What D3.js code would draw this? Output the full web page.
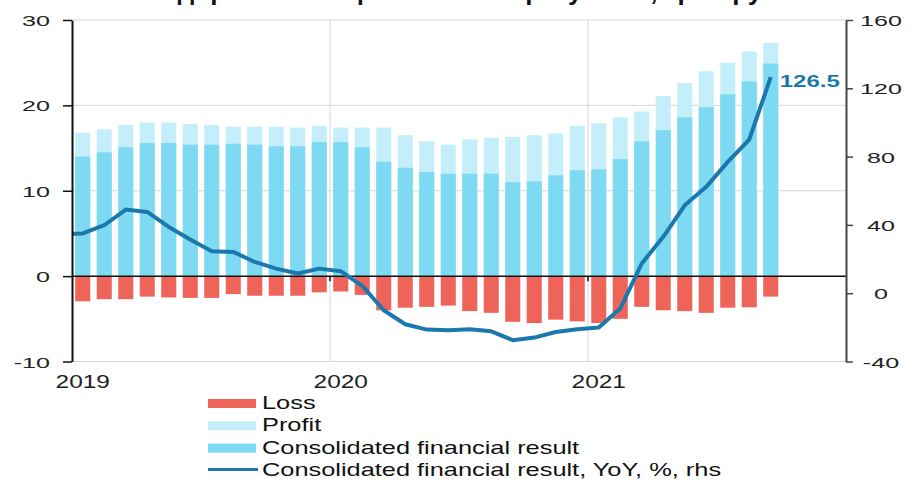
<!DOCTYPE html>
<html><head><meta charset="utf-8">
<script src="https://cdn.jsdelivr.net/npm/d3@7"></script>
<style>body{margin:0;background:#fff}svg{display:block}text{font-family:"Liberation Sans",Arial,sans-serif}</style>
</head><body>
<svg id="c" width="912" height="481"></svg>
<script>
const months = ["2019-01","2019-02","2019-03","2019-04","2019-05","2019-06","2019-07","2019-08","2019-09","2019-10","2019-11","2019-12",
"2020-01","2020-02","2020-03","2020-04","2020-05","2020-06","2020-07","2020-08","2020-09","2020-10","2020-11","2020-12",
"2021-01","2021-02","2021-03","2021-04","2021-05","2021-06","2021-07","2021-08","2021-09"];
const axisMonths = ["2019-01","2019-02","2019-03","2019-04","2019-05","2019-06","2019-07","2019-08","2019-09","2019-10","2019-11","2019-12",
"2020-01","2020-02","2020-03","2020-04","2020-05","2020-06","2020-07","2020-08","2020-09","2020-10","2020-11","2020-12",
"2021-01","2021-02","2021-03","2021-04","2021-05","2021-06","2021-07","2021-08","2021-09","2021-10","2021-11","2021-12"];
const consolidated = [14.0,14.5,15.1,15.6,15.6,15.4,15.4,15.5,15.4,15.2,15.2,15.7,
  15.7,15.1,13.4,12.7,12.2,12.0,12.0,12.0,11.0,11.1,11.8,12.4,
  12.5,13.7,15.8,17.1,18.6,19.8,21.3,22.8,24.9];
const profit = [16.8,17.2,17.7,18.0,18.0,17.8,17.7,17.5,17.5,17.5,17.4,17.6,
  17.4,17.4,17.4,16.5,15.8,15.4,16.0,16.2,16.3,16.5,16.7,17.6,
  17.9,18.6,19.3,21.1,22.6,24.0,25.0,26.3,27.3];
const loss = [-2.95,-2.7,-2.7,-2.4,-2.5,-2.55,-2.55,-2.1,-2.3,-2.3,-2.3,-1.9,
  -1.8,-2.2,-4.0,-3.7,-3.6,-3.45,-4.1,-4.3,-5.35,-5.5,-5.1,-5.3,
  -5.5,-5.0,-3.6,-4.0,-4.1,-4.3,-3.7,-3.65,-2.4];
const yoyPrevMonth = 34.5; // Dec 2018
const yoy = [35.0,39.8,49.0,47.6,38.8,31.4,24.6,24.2,18.3,14.4,11.5,14.4,
  12.9,4.3,-10.0,-18.2,-21.3,-21.7,-21.1,-22.3,-27.5,-26.0,-22.7,-21.1,
  -20.1,-9.0,17.4,33.0,51.5,62.3,76.9,90.0,126.5];
const leftTicks = [-10,0,10,20,30];
const rightTicks = [-40,0,40,80,120,160];
const yearLabels = [{m:"2019-01",t:"2019"},{m:"2020-01",t:"2020"},{m:"2021-01",t:"2021"}];
const yearBreaks = ["2020-01","2021-01"];
const titleText = "Сальдированный финансовый результат, трлн руб";
const legendItems = [
  {k:"loss", t:"Loss"},
  {k:"profit", t:"Profit"},
  {k:"cons", t:"Consolidated financial result"},
  {k:"line", t:"Consolidated financial result, YoY, %, rhs"}];

const C = {loss:"#ef6459", profit:"#c3eefa", cons:"#7ed9f3", line:"#1b78ad", grid:"#d6d6d6"};

const svg = d3.select("#c");
const x = d3.scaleBand().domain(axisMonths).range([72, 846]).paddingInner(0.3).paddingOuter(0.15);
const step = x.step();
const xc = m => x(m) + x.bandwidth()/2;
const yL = d3.scaleLinear().domain([-10,30]).range([361.5,20]);
const yR = d3.scaleLinear().domain([-40,160]).range([361.5,20]);

// title (cropped at the top edge, as in the reference)
svg.append("text").attr("x",445).attr("y",0).attr("text-anchor","middle")
  .attr("font-size",26).attr("font-weight","bold").attr("fill","#111").text(titleText);

// grid
svg.append("g").selectAll("line").data(leftTicks.filter(d=>d!==0)).join("line")
  .attr("x1",72).attr("x2",846).attr("y1",d=>yL(d)).attr("y2",d=>yL(d))
  .attr("stroke",C.grid).attr("stroke-width",1);
svg.append("g").selectAll("line").data(yearBreaks).join("line")
  .attr("x1",d=>x(d)-(step-x.bandwidth())/2).attr("x2",d=>x(d)-(step-x.bandwidth())/2)
  .attr("y1",yL(30)).attr("y2",yL(-10)).attr("stroke",C.grid).attr("stroke-width",1);

// bars
const bw = x.bandwidth();
svg.append("g").selectAll("rect").data(months).join("rect")
  .attr("x",d=>x(d)).attr("width",bw)
  .attr("y",(d,i)=>yL(profit[i])).attr("height",(d,i)=>yL(0)-yL(profit[i])).attr("fill",C.profit);
svg.append("g").selectAll("rect").data(months).join("rect")
  .attr("x",d=>x(d)).attr("width",bw)
  .attr("y",(d,i)=>yL(consolidated[i])).attr("height",(d,i)=>yL(0)-yL(consolidated[i])).attr("fill",C.cons);
svg.append("g").selectAll("rect").data(months).join("rect")
  .attr("x",d=>x(d)).attr("width",bw)
  .attr("y",yL(0)).attr("height",(d,i)=>yL(loss[i])-yL(0)).attr("fill",C.loss);

// zero line
svg.append("line").attr("x1",72).attr("x2",846).attr("y1",yL(0)).attr("y2",yL(0))
  .attr("stroke","#111").attr("stroke-width",1.5);
svg.append("g").selectAll("line").data(yearBreaks).join("line")
  .attr("x1",d=>x(d)-(step-bw)/2).attr("x2",d=>x(d)-(step-bw)/2)
  .attr("y1",yL(0)).attr("y2",yL(0)+5).attr("stroke","#111").attr("stroke-width",1.5);

// line
svg.append("clipPath").attr("id","clip").append("rect").attr("x",72).attr("y",0).attr("width",780).attr("height",481);
const pts = [[xc(months[0])-step, yR(yoyPrevMonth)]].concat(months.map((m,i)=>[xc(m), yR(yoy[i])]));
svg.append("path").attr("clip-path","url(#clip)").attr("d",d3.line()(pts))
  .attr("fill","none").attr("stroke",C.line).attr("stroke-width",4).attr("stroke-linejoin","round");
svg.append("g").attr("transform",`translate(${xc(months[months.length-1])+9},${yR(yoy[yoy.length-1])+10}) scale(1.5,1)`)
  .append("text").attr("font-size",16).attr("font-weight","bold").attr("fill",C.line)
  .text(yoy[yoy.length-1].toFixed(1));

// left axis
const gL = svg.append("g").attr("transform","translate(72,0)")
  .call(d3.axisLeft(yL).tickValues(leftTicks).tickSize(9).tickSizeOuter(0));
gL.select(".domain").attr("stroke","#111").attr("stroke-width",2);
gL.selectAll(".tick line").attr("stroke","#111").attr("stroke-width",1.5);
gL.selectAll(".tick text").attr("x",null).attr("dy","0.36em").attr("font-size",15.5).attr("fill","#222")
  .attr("font-family","'Liberation Sans',Arial,sans-serif")
  .attr("transform","translate(-22,0) scale(1.62,1)").text(d=>d);

// right axis
const gR = svg.append("g").attr("transform","translate(846,0)")
  .call(d3.axisRight(yR).tickValues(rightTicks).tickSize(7).tickSizeOuter(0));
gR.select(".domain").attr("stroke","#444").attr("stroke-width",2);
gR.selectAll(".tick line").attr("stroke","#444").attr("stroke-width",1.5);
gR.selectAll(".tick text").attr("x",null).attr("dy","0.36em").attr("font-size",15.5).attr("fill","#222")
  .attr("text-anchor","middle").attr("font-family","'Liberation Sans',Arial,sans-serif")
  .attr("transform","translate(35,0) scale(1.62,1)").text(d=>d);

// x labels
svg.append("g").selectAll("g").data(yearLabels).join("g")
  .attr("transform",d=>`translate(${xc(d.m)},388) scale(1.4,1)`)
  .append("text").attr("text-anchor","middle").attr("font-size",17.5).attr("fill","#222").text(d=>d.t);

// legend
const lg = svg.append("g").selectAll("g").data(legendItems).join("g")
  .attr("transform",(d,i)=>`translate(208,${403.5+i*22.3})`);
lg.filter(d=>d.k!=="line").append("rect").attr("x",0).attr("y",-4.5).attr("width",48).attr("height",9)
  .attr("fill",d=>C[d.k]);
lg.filter(d=>d.k==="line").append("line").attr("x1",0).attr("x2",50).attr("y1",-1).attr("y2",-1)
  .attr("stroke",C.line).attr("stroke-width",3);
lg.append("g").attr("transform","translate(54,5.5) scale(1.45,1)")
  .append("text").attr("font-size",17.5).attr("fill","#111").text(d=>d.t);
</script>
</body></html>
